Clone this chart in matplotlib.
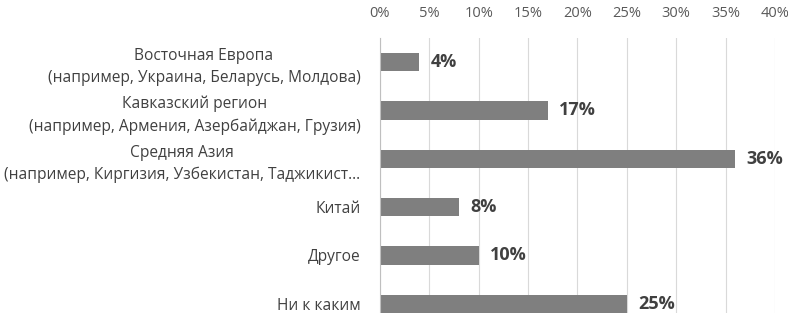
import matplotlib.pyplot as plt
import numpy as np

plt.rcParams['font.family'] = ['Open Sans', 'DejaVu Sans']

categories = [
    'Восточная Европа\n(например, Украина, Беларусь, Молдова)',
    'Кавказский регион\n(например, Армения, Азербайджан, Грузия)',
    'Средняя Азия\n(например, Киргизия, Узбекистан, Таджикист…',
    'Китай',
    'Другое',
    'Ни к каким',
]
values = [4, 17, 36, 8, 10, 25]
ticks = [0, 5, 10, 15, 20, 25, 30, 35, 40]

fig = plt.figure(figsize=(7.88, 3.13), dpi=100)
ax = fig.add_axes([0.482, -0.048, 0.5015, 0.927])

y = np.arange(len(categories))
ax.barh(y, values, height=0.38, color='#7f7f7f', zorder=2)

for yi, v in zip(y, values):
    ax.annotate(f'{v}%', (v, yi), xytext=(8, 0), textcoords='offset points',
                ha='left', va='center', fontsize=13, fontweight='bold', color='#404040')

ax.set_xlim(0, 40)
ax.set_ylim(len(categories) - 0.5, -0.5)
ax.set_xticks(ticks)
ax.set_xticklabels([f'{t}%' for t in ticks], fontsize=10.5, color='#595959')
ax.xaxis.tick_top()
ax.tick_params(axis='x', length=0, pad=12)
ax.set_yticks(y)
ax.set_yticklabels(categories, fontsize=11.2, color='#404040', multialignment='center',
                   linespacing=1.5)
ax.tick_params(axis='y', length=0, pad=14)

ax.grid(axis='x', color='#d9d9d9', linewidth=0.8, zorder=0)
for s in ['top', 'right', 'bottom']:
    ax.spines[s].set_visible(False)
ax.spines['left'].set_color('#bfbfbf')

plt.savefig('out.png', dpi=100)
